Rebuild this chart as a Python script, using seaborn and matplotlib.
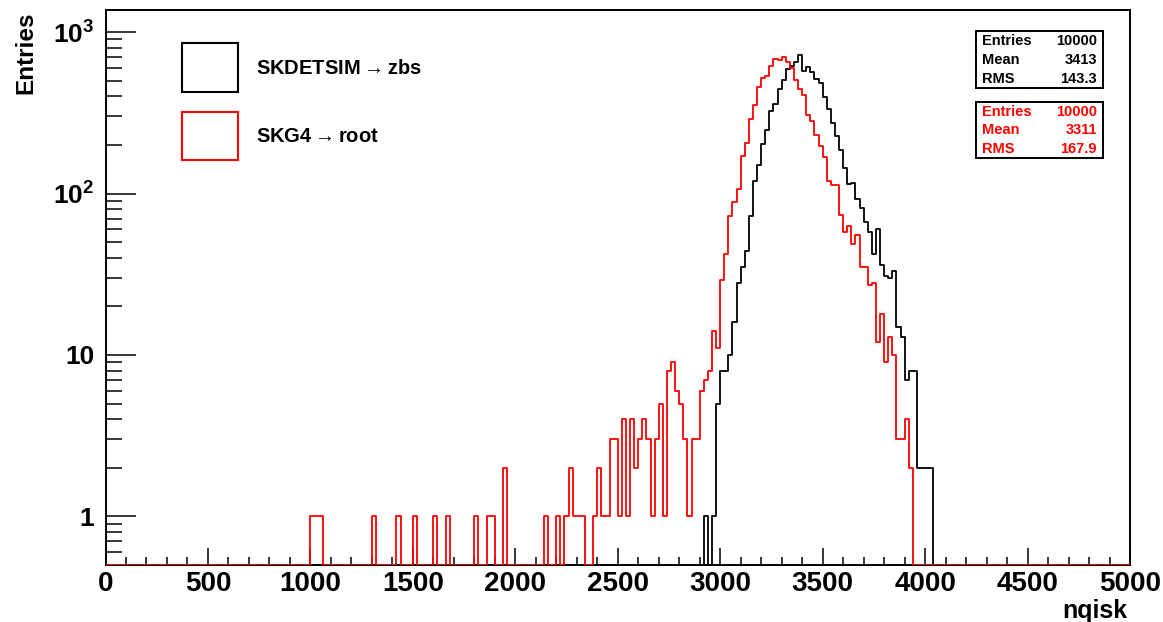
import numpy as np
import pandas as pd
import seaborn as sns
import matplotlib
matplotlib.use("Agg")
import matplotlib.pyplot as plt
from matplotlib.patches import Rectangle
from matplotlib.ticker import FixedLocator, FuncFormatter, NullFormatter, LogLocator, MultipleLocator

# ---------------- data ----------------
x_min, x_max, bin_width = 0, 5000, 20
y_min, y_max = 0.5, 1370

# SKDETSIM -> zbs (black), consecutive 20-wide bins starting at 2920
black_start = 2920
black_counts = [1, 0, 1, 5, 8, 8, 10, 16, 28, 35, 44, 73, 120, 150, 204, 247,
                323, 356, 445, 508, 594, 615, 654, 716, 572, 606, 564, 513, 485,
                397, 334, 274, 228, 187, 144, 115, 116, 93, 81, 67, 58, 42, 60,
                36, 31, 30, 33, 15, 13, 7, 8, 8, 2, 2, 2, 2]

# SKG4 -> root (red): isolated low tail bins + consecutive bins from 2240
red_tail_bins = [1000, 1020, 1040, 1300, 1420, 1500, 1600, 1660, 1800, 1860,
                 1880, 1940, 2140, 2200]
red_tail_counts = [1, 1, 1, 1, 1, 1, 1, 1, 1, 1, 1, 2, 1, 1]
red_start = 2240
red_counts = [1, 2, 1, 1, 1, 0, 0, 1, 2, 1, 1, 3, 3, 1, 4, 1, 4, 2, 3, 4, 3, 1,
              3, 5, 1, 8, 9, 6, 5, 3, 1, 3, 3, 6, 7, 8, 14, 11, 29, 42, 73, 88,
              107, 170, 205, 291, 352, 458, 520, 538, 615, 683, 670, 699, 654,
              600, 508, 445, 405, 308, 281, 232, 196, 169, 120, 113, 113, 74,
              58, 63, 49, 55, 35, 35, 27, 28, 12, 18, 9, 13, 10, 3, 3, 4, 2]

series_labels = [r"SKDETSIM$\rightarrow$zbs", r"SKG4$\rightarrow$root"]
series_colors = ["#000000", "#ff0000"]
stats_names = ["Entries", "Mean", "RMS"]
stats_black = ["10000", "3413", "143.3"]
stats_red = ["10000", "3311", "167.9"]
x_label = "nqisk"
y_label = "Entries"
y_major = [1, 10, 100, 1000]
y_major_labels = ["1", "10", r"$\mathbf{10^{2}}$", r"$\mathbf{10^{3}}$"]

# ---------------- build histograms ----------------
edges = np.arange(x_min, x_max + bin_width, bin_width)
centers = edges[:-1] + bin_width / 2


def fill_hist(start, counts):
    h = np.zeros(len(centers))
    i0 = (start - x_min) // bin_width
    h[i0:i0 + len(counts)] = counts
    return h


h_black = fill_hist(black_start, black_counts)
h_red = fill_hist(red_start, red_counts)
for b, c in zip(red_tail_bins, red_tail_counts):
    h_red[(b - x_min) // bin_width] = c

# ---------------- style ----------------
sns.set_theme(style="white")
plt.rcParams['font.family'] = ['Liberation Sans', 'DejaVu Sans']
plt.rcParams['font.weight'] = 'bold'
plt.rcParams['text.color'] = 'black'
plt.rcParams['axes.labelcolor'] = 'black'
plt.rcParams['xtick.color'] = 'black'
plt.rcParams['ytick.color'] = 'black'
plt.rcParams['mathtext.fontset'] = 'custom'
plt.rcParams['mathtext.bf'] = 'Liberation Sans:bold'
plt.rcParams['mathtext.rm'] = 'Liberation Sans:bold'
plt.rcParams['mathtext.it'] = 'Liberation Sans:bold'

W, H = 1163, 622
fig = plt.figure(figsize=(W / 100, H / 100), dpi=100)
fig.patch.set_facecolor("white")
L, R, T, B = 105.5, 1130, 10, 565
ax = fig.add_axes([L / W, 1 - B / H, (R - L) / W, (B - T) / H])

for h, col in zip([h_black, h_red], series_colors):
    df = pd.DataFrame({"nqisk": centers, "entries": np.maximum(h, y_min)})
    sns.histplot(data=df, x="nqisk", weights="entries", bins=list(edges),
                 element="step", fill=False, color=col, linewidth=1.3,
                 ax=ax, zorder=3)

ax.set_yscale("log")
ax.set_xlim(x_min, x_max)
ax.set_ylim(y_min, y_max)

ax.xaxis.set_major_locator(MultipleLocator(500))
ax.xaxis.set_minor_locator(MultipleLocator(100))
ax.yaxis.set_major_locator(FixedLocator(y_major))
ax.yaxis.set_minor_locator(LogLocator(base=10, subs=range(2, 10), numticks=20))
ax.yaxis.set_minor_formatter(NullFormatter())
ax.yaxis.set_major_formatter(FuncFormatter(
    lambda v, p: y_major_labels[y_major.index(v)] if v in y_major else ""))

for s in ax.spines.values():
    s.set_color("black")
    s.set_linewidth(1.4)
ax.grid(False)
ax.tick_params(which="both", direction="in", color="black", width=1.1,
               bottom=True, left=True, top=False, right=False)
ax.tick_params(axis="x", which="major", length=12.2, labelsize=20, pad=4)
ax.tick_params(axis="x", which="minor", length=5.8)
ax.tick_params(axis="y", which="major", length=21.6, labelsize=19, pad=8)
ax.tick_params(axis="y", which="minor", length=11.3)
for lab in ax.get_xticklabels() + ax.get_yticklabels():
    lab.set_fontweight("bold")

ax.set_xlabel(x_label, fontsize=18, fontweight="bold", loc="right")
ax.xaxis.set_label_coords((1127 - L) / (R - L), (B - 599) / (B - T))
ax.set_ylabel(y_label, fontsize=17.5, fontweight="bold", loc="top")
ax.yaxis.set_label_coords((37 - L) / (R - L), 1 - (12 - T) / (B - T))


def px(x, y):
    return (x / W, 1 - y / H)


# legend (ROOT TLegend style, no frame)
leg_rows = [(42.7, 91.7), (111.7, 160)]
for (y0, y1), col, lab in zip(leg_rows, series_colors, series_labels):
    fig.add_artist(Rectangle(px(181.7, y1), (238.3 - 181.7) / W, (y1 - y0) / H,
                             transform=fig.transFigure, facecolor="white",
                             edgecolor=col, linewidth=1.5))
    fig.text(*px(256, (y0 + y1) / 2 + 1), lab, fontsize=14.5, fontweight="bold",
             ha="left", va="center", color="black")

# stats boxes
boxes = [(31, 87.7, stats_black, series_colors[0]),
         (101.7, 157.7, stats_red, series_colors[1])]
for y0, y1, vals, col in boxes:
    fig.add_artist(Rectangle(px(976, y1), (1103.3 - 976) / W, (y1 - y0) / H,
                             transform=fig.transFigure, facecolor="white",
                             edgecolor="black", linewidth=1.4))
    rh = (y1 - y0) / 3
    for i, (nm, v) in enumerate(zip(stats_names, vals)):
        yc = y0 + rh * (i + 0.5) + 0.5
        fig.text(*px(982, yc), nm, fontsize=10.5, fontweight="bold",
                 ha="left", va="center", color=col)
        fig.text(*px(1097, yc), v, fontsize=10.5, fontweight="bold",
                 ha="right", va="center", color=col)

fig.savefig("out.png", dpi=100, facecolor="white")
